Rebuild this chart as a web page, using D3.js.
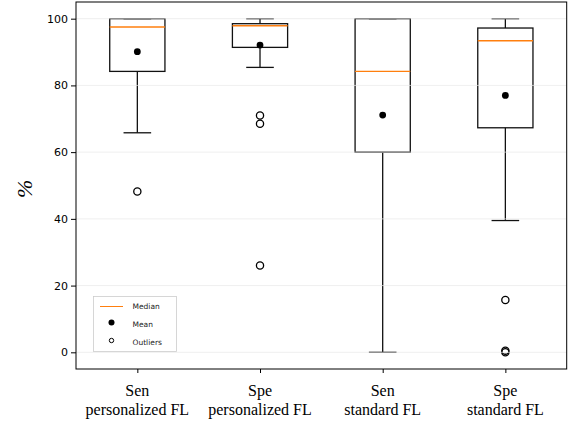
<!DOCTYPE html>
<html>
<head>
<meta charset="utf-8">
<script src="https://cdn.jsdelivr.net/npm/d3@7"></script>
<style>
  html, body { margin: 0; padding: 0; background: #fff; }
  svg { display: block; }
</style>
</head>
<body>
<svg id="chart" width="573" height="426"></svg>
<script>
// Box-plot summary statistics for each method/metric
const categories = [["Sen", "personalized FL"], ["Spe", "personalized FL"], ["Sen", "standard FL"], ["Spe", "standard FL"]];
const whiskerHigh = [100, 100, 100, 100];
const q3 = [100, 98.5, 100, 97.2];
const medians = [97.5, 97.9, 84.2, 93.4];
const q1 = [84.2, 91.4, 60.0, 67.3];
const whiskerLow = [65.8, 85.4, 0, 39.5];
const means = [90.1, 92.1, 71.1, 77.0];
const outliers = [[48.2], [71.0, 68.5, 26.0], [], [15.7, 0.5, 0.0]];
const yTicks = [0, 20, 40, 60, 80, 100];

const svg = d3.select("#chart");
const margin = { left: 76, right: 6.3, top: 2, bottom: 57 };
const W = 573, H = 426;

const x = d3.scaleLinear().domain([0.5, 4.5]).range([margin.left, W - margin.right]);
const y = d3.scaleLinear().domain([-5, 105]).range([H - margin.bottom, margin.top]);

const boxW = 0.45, capW = 0.225;
const g = svg.append("g");

categories.forEach((c, i) => {
  const cx = x(i + 1);
  const bx0 = x(i + 1 - boxW / 2), bx1 = x(i + 1 + boxW / 2);
  const cp0 = x(i + 1 - capW / 2), cp1 = x(i + 1 + capW / 2);
  const bg = g.append("g");
  // whiskers
  bg.append("line").attr("x1", cx).attr("x2", cx).attr("y1", y(q3[i])).attr("y2", y(whiskerHigh[i]))
    .attr("stroke", "#111").attr("stroke-width", 1.3);
  bg.append("line").attr("x1", cx).attr("x2", cx).attr("y1", y(q1[i])).attr("y2", y(whiskerLow[i]))
    .attr("stroke", "#111").attr("stroke-width", 1.3);
  // caps
  [whiskerHigh[i], whiskerLow[i]].forEach(v => {
    bg.append("line").attr("x1", cp0).attr("x2", cp1).attr("y1", y(v)).attr("y2", y(v))
      .attr("stroke", "#111").attr("stroke-width", 1.3);
  });
  // box
  bg.append("rect").attr("x", bx0).attr("y", y(q3[i])).attr("width", bx1 - bx0)
    .attr("height", y(q1[i]) - y(q3[i])).attr("fill", "none").attr("stroke", "#111").attr("stroke-width", 1.3);
  // median
  bg.append("line").attr("x1", bx0).attr("x2", bx1).attr("y1", y(medians[i])).attr("y2", y(medians[i]))
    .attr("stroke", "#ff7f0e").attr("stroke-width", 1.4);
  // outliers
  outliers[i].forEach(v => {
    bg.append("circle").attr("cx", cx).attr("cy", y(v)).attr("r", 3.6)
      .attr("fill", "none").attr("stroke", "#000").attr("stroke-width", 1.3);
  });
  // mean
  bg.append("circle").attr("cx", cx).attr("cy", y(means[i])).attr("r", 3.4).attr("fill", "#000");
});

// horizontal grid
svg.append("g").selectAll("line").data(yTicks).join("line")
  .attr("x1", margin.left).attr("x2", W - margin.right)
  .attr("y1", d => y(d)).attr("y2", d => y(d))
  .attr("stroke", "#e8e8e8").attr("stroke-opacity", 0.7).attr("stroke-width", 1);

// frame
svg.append("rect").attr("x", margin.left).attr("y", margin.top)
  .attr("width", W - margin.right - margin.left).attr("height", H - margin.bottom - margin.top)
  .attr("fill", "none").attr("stroke", "#000").attr("stroke-width", 1);

// y axis
const yAxis = svg.append("g").attr("transform", `translate(${margin.left},0)`)
  .call(d3.axisLeft(y).tickValues(yTicks).tickSize(5).tickPadding(3).tickFormat(d3.format("d")));
yAxis.select(".domain").remove();
yAxis.selectAll("text").attr("font-family", "DejaVu Sans").attr("font-size", 11).attr("fill", "#000");
yAxis.selectAll("line").attr("stroke", "#000");

// x axis
const xAxis = svg.append("g").attr("transform", `translate(0,${H - margin.bottom})`)
  .call(d3.axisBottom(x).tickValues([1, 2, 3, 4]).tickSize(4).tickFormat(""));
xAxis.select(".domain").remove();
xAxis.selectAll("line").attr("stroke", "#000");

const xl = svg.append("g");
categories.forEach((c, i) => {
  const t = xl.append("text").attr("x", x(i + 1)).attr("text-anchor", "middle")
    .attr("font-family", "Liberation Serif").attr("font-size", 16).attr("fill", "#000");
  t.append("tspan").attr("x", x(i + 1)).attr("y", 396).text(c[0]);
  t.append("tspan").attr("x", x(i + 1)).attr("y", 415).text(c[1]);
});

// y label
svg.append("text").attr("transform", `translate(32,${y(49)}) rotate(-90)`)
  .attr("text-anchor", "middle").attr("font-family", "Liberation Serif").attr("font-style", "italic")
  .attr("font-size", 22).attr("fill", "#000").text("%");

// legend
const lg = svg.append("g").attr("transform", "translate(93.5,296.5)");
lg.append("rect").attr("width", 83).attr("height", 55).attr("fill", "#fff")
  .attr("stroke", "#ccc").attr("stroke-width", 0.8);
lg.append("line").attr("x1", 6.5).attr("x2", 29.5).attr("y1", 10).attr("y2", 10)
  .attr("stroke", "#ff7f0e").attr("stroke-width", 1);
lg.append("circle").attr("cx", 18).attr("cy", 26).attr("r", 3).attr("fill", "#000");
lg.append("circle").attr("cx", 18).attr("cy", 44).attr("r", 2.2).attr("fill", "none")
  .attr("stroke", "#000").attr("stroke-width", 1);
["Median", "Mean", "Outliers"].forEach((s, k) => {
  lg.append("text").attr("x", 39).attr("y", 10 + k * 18).attr("dy", "0.35em")
    .attr("font-family", "DejaVu Sans").attr("font-size", 7.5).attr("fill", "#222").text(s);
});
</script>
</body>
</html>
